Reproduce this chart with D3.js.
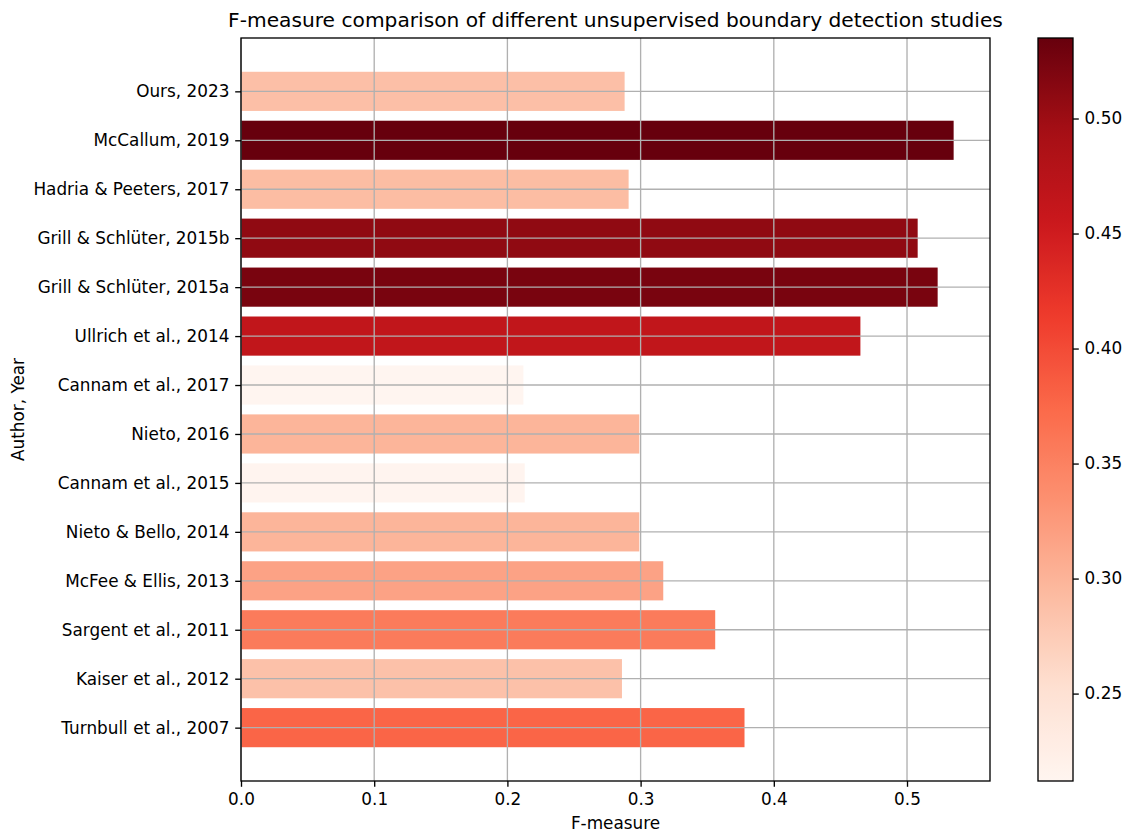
<!DOCTYPE html>
<html>
<head>
<meta charset="utf-8">
<script src="https://cdn.jsdelivr.net/npm/d3@7"></script>
<style>
  body { margin: 0; background: #fff; }
  text { font-family: "DejaVu Sans", sans-serif; fill: #000; }
</style>
</head>
<body>
<script>
// F-measure comparison, horizontal bars coloured by value

// data, bottom to top as in the reference
var studies = ["Turnbull et al., 2007", "Kaiser et al., 2012", "Sargent et al., 2011",
  "McFee & Ellis, 2013", "Nieto & Bello, 2014", "Cannam et al., 2015", "Nieto, 2016",
  "Cannam et al., 2017", "Ullrich et al., 2014", "Grill & Schlüter, 2015a",
  "Grill & Schlüter, 2015b", "Hadria & Peeters, 2017", "McCallum, 2019", "Ours, 2023"];
var fmeasure = [0.378, 0.286, 0.356, 0.317, 0.299, 0.213, 0.299,
  0.212, 0.465, 0.523, 0.508, 0.291, 0.535, 0.288];
var xTicks = [0.0, 0.1, 0.2, 0.3, 0.4, 0.5];
var cbTicks = [0.25, 0.30, 0.35, 0.40, 0.45, 0.50];
var reds = ["#fff5f0", "#fee0d2", "#fcbba1", "#fc9272", "#fb6a4a",
  "#ef3b2c", "#cb181d", "#a50f15", "#67000d"];

var W = 1129, H = 834;
var L = 241, R = 990, T = 38, B = 781;
var tickFont = "16.85px", titleFont = "20.2px";

var svg = d3.select("body").append("svg")
  .attr("width", W).attr("height", H);

var vmin = d3.min(fmeasure), vmax = d3.max(fmeasure);
var color = d3.scaleLinear()
  .domain(reds.map(function(c, i) { return vmin + (vmax - vmin) * i / (reds.length - 1); }))
  .range(reds)
  .interpolate(d3.interpolateRgb);

var x = d3.scaleLinear().domain([0, 0.5623]).range([L, R]);
// matplotlib barh: positions 0..n-1, height 0.8, 5% margins
var n = studies.length;
var lo = -0.4, hi = n - 1 + 0.4, m = (hi - lo) * 0.05;
var y = d3.scaleLinear().domain([lo - m, hi + m]).range([B, T]);

// bars
svg.append("g").selectAll("rect")
  .data(fmeasure)
  .enter()
  .append("rect")
  .attr("x", x(0))
  .attr("y", function(d, i) { return y(i + 0.4); })
  .attr("width", function(d) { return x(d) - x(0); })
  .attr("height", function(d, i) { return y(i - 0.4) - y(i + 0.4); })
  .attr("fill", function(d) { return color(d); });

// grid, drawn over the bars
var grid = svg.append("g").attr("stroke", "#b0b0b0").attr("stroke-width", 1.33);
grid.selectAll(".gx").data(xTicks).enter().append("line")
  .attr("x1", function(d) { return x(d); }).attr("x2", function(d) { return x(d); })
  .attr("y1", T).attr("y2", B);
grid.selectAll(".gy").data(studies).enter().append("line")
  .attr("x1", L).attr("x2", R)
  .attr("y1", function(d, i) { return y(i); }).attr("y2", function(d, i) { return y(i); });

// axes
var xAxis = d3.axisBottom(x).tickValues(xTicks).tickFormat(d3.format(".1f"))
  .tickSizeInner(5.8).tickSizeOuter(0).tickPadding(5.8);
var gx = svg.append("g").attr("transform", "translate(0," + B + ")").call(xAxis);

var yAxis = d3.axisLeft(y).tickValues(d3.range(n)).tickFormat(function(i) { return studies[i]; })
  .tickSizeInner(5.8).tickSizeOuter(0).tickPadding(5.8);
var gy = svg.append("g").attr("transform", "translate(" + L + ",0)").call(yAxis);

[gx, gy].forEach(function(g) {
  g.select(".domain").remove();
  g.selectAll("line").attr("stroke", "#000").attr("stroke-width", 1.33);
  g.selectAll("text").style("font-size", tickFont).attr("font-family", null);
});

// frame
svg.append("rect").attr("x", L).attr("y", T).attr("width", R - L).attr("height", B - T)
  .attr("fill", "none").attr("stroke", "#000").attr("stroke-width", 1.33);

// labels
svg.append("text").attr("x", (L + R) / 2).attr("y", 27).attr("text-anchor", "middle")
  .style("font-size", titleFont)
  .text("F-measure comparison of different unsupervised boundary detection studies");
svg.append("text").attr("x", (L + R) / 2).attr("y", 829).attr("text-anchor", "middle")
  .style("font-size", tickFont).text("F-measure");
svg.append("text").attr("transform", "translate(24," + ((T + B) / 2) + ") rotate(-90)")
  .attr("text-anchor", "middle").style("font-size", tickFont).text("Author, Year");

// colorbar
var cbL = 1038, cbW = 35;
var cy = d3.scaleLinear().domain([vmin, vmax]).range([B, T]);
var grad = svg.append("defs").append("linearGradient")
  .attr("id", "cb").attr("x1", 0).attr("x2", 0).attr("y1", 1).attr("y2", 0);
grad.selectAll("stop").data(d3.range(0, 1.0001, 0.02)).enter().append("stop")
  .attr("offset", function(t) { return t; })
  .attr("stop-color", function(t) { return color(vmin + t * (vmax - vmin)); });
svg.append("rect").attr("x", cbL).attr("y", T).attr("width", cbW).attr("height", B - T)
  .attr("fill", "url(#cb)").attr("stroke", "#000").attr("stroke-width", 1.33);

var cbAxis = d3.axisRight(cy).tickValues(cbTicks).tickFormat(d3.format(".2f"))
  .tickSizeInner(5.8).tickSizeOuter(0).tickPadding(5.8);
var gc = svg.append("g").attr("transform", "translate(" + (cbL + cbW) + ",0)").call(cbAxis);
gc.select(".domain").remove();
gc.selectAll("line").attr("stroke", "#000").attr("stroke-width", 1.33);
gc.selectAll("text").style("font-size", tickFont).attr("font-family", null);
</script>
</body>
</html>
